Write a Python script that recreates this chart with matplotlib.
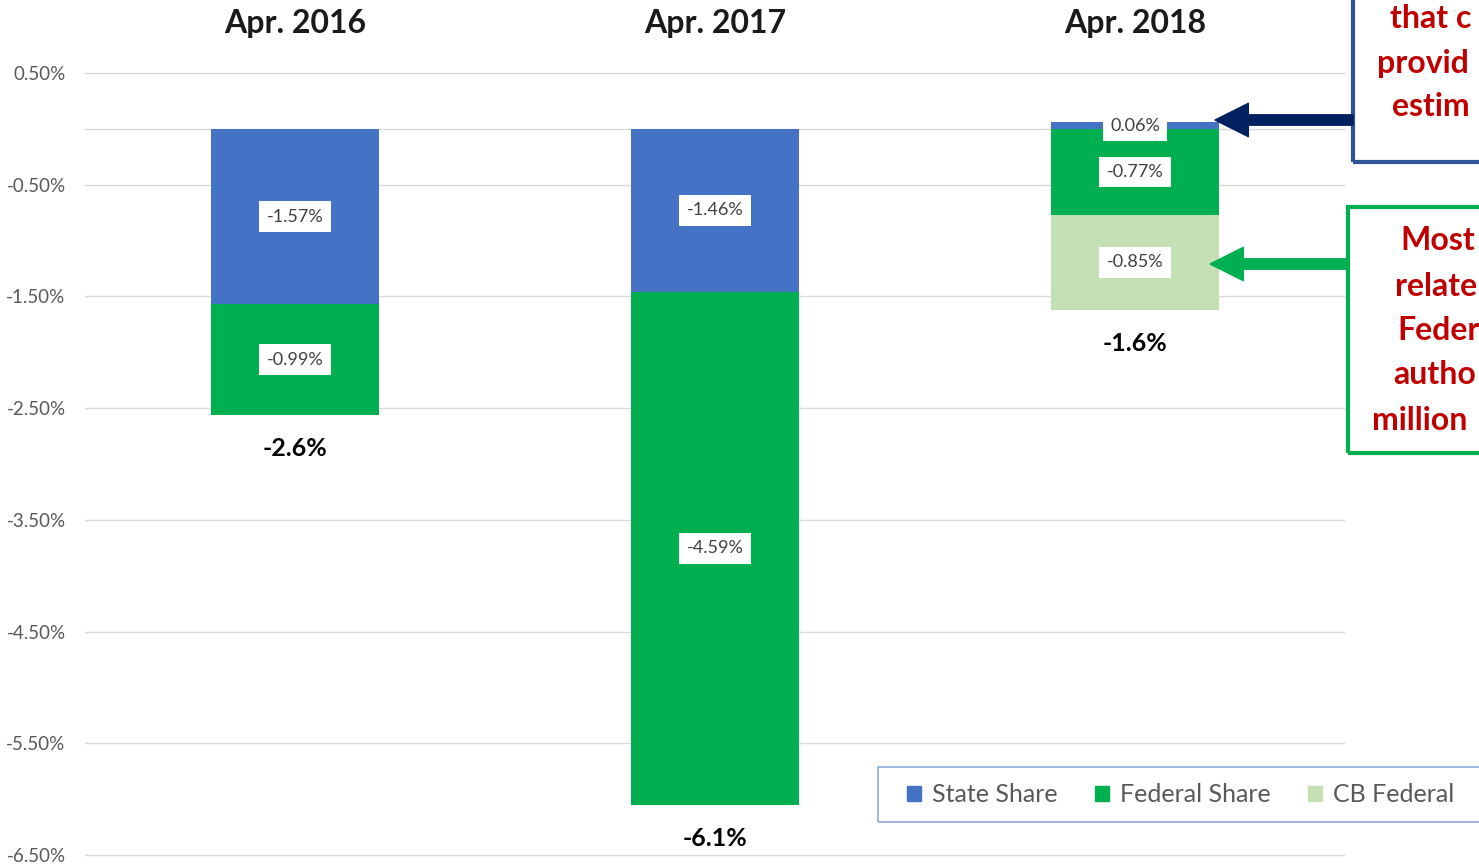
import matplotlib.pyplot as plt
from matplotlib.patches import Rectangle, FancyArrowPatch, Patch

plt.rcParams['font.family'] = ['Lato', 'DejaVu Sans']

# data
years = ['Apr. 2016', 'Apr. 2017', 'Apr. 2018']
state_share = [-1.57, -1.46, 0.06]
federal_share = [-0.99, -4.59, -0.77]
cb_federal = [0.0, 0.0, -0.85]
totals = [-2.6, -6.1, -1.6]
yticks = [0.5, -0.5, -1.5, -2.5, -3.5, -4.5, -5.5, -6.5]

series = [('State Share', state_share, '#4472C4'),
          ('Federal Share', federal_share, '#00B050'),
          ('CB Federal', cb_federal, '#C5E0B4')]

W, H = 1479, 866
fig = plt.figure(figsize=(W / 100, H / 100), dpi=100)


def fpx(x, y):
    return (x / W, 1 - y / H)


ax = fig.add_axes([85 / W, 0, (1345 - 85) / W, 1])
ppu = (855 - 73) / 7.0
ax.set_ylim(-6.5 - (H - 855) / ppu, 0.5 + 73 / ppu)
ax.set_xlim(-0.5, 2.5)

x = list(range(len(years)))
pos_bottom = [0.0] * len(x)
neg_bottom = [0.0] * len(x)
for name, vals, col in series:
    bottoms = []
    for i, v in enumerate(vals):
        if v >= 0:
            bottoms.append(pos_bottom[i])
            pos_bottom[i] += v
        else:
            bottoms.append(neg_bottom[i])
            neg_bottom[i] += v
    ax.bar(x, vals, bottom=bottoms, width=0.4, color=col, zorder=2)
    for i, v in enumerate(vals):
        if v == 0:
            continue
        ax.text(i, bottoms[i] + v / 2, f'{v:.2f}%', ha='center', va='center',
                fontsize=13, color='#404040', zorder=4,
                bbox=dict(boxstyle='square,pad=0.4', fc='white', ec='none'))

for i, t in enumerate(totals):
    ax.text(i, neg_bottom[i] - 0.3, f'{t:.1f}%', ha='center', va='center',
            fontsize=18, fontweight='bold', color='black')

for i, name in enumerate(years):
    ax.text(i, 0.5 + 49 / ppu, name, ha='center', va='center',
            fontsize=23, fontweight='bold', color='#1a1a1a')

ax.set_yticks(yticks)
ax.set_yticklabels([f'{t:.2f}%' for t in yticks], color='#595959', fontsize=13.5)
ax.tick_params(axis='y', length=0, pad=14)
ax.set_xticks([])
ax.grid(axis='y', color='#D9D9D9', lw=1, zorder=0)
ax.axhline(0, color='#D9D9D9', lw=1, zorder=0)
for s in ax.spines.values():
    s.set_visible(False)

# legend (frame drawn separately, it runs off the right edge)
fig.patches.append(Rectangle(fpx(878, 822), 0.5, 55 / H, transform=fig.transFigure,
                             fill=False, ec='#8FAADC', lw=1.2, clip_on=False))
handles = [Patch(color=c, label=n) for n, v, c in series]
leg = fig.legend(handles=handles, loc='center left', bbox_to_anchor=fpx(907, 795),
                 ncol=3, frameon=False, fontsize=18,
                 handlelength=0.55, handleheight=0.55, handletextpad=0.45,
                 columnspacing=1.5, borderaxespad=0, borderpad=0)
for t in leg.get_texts():
    t.set_color('#595959')

# annotation boxes on the right
blue_box = Rectangle(fpx(1353, 162), 0.2, 0.3, transform=fig.transFigure,
                     fill=False, ec='#2F5597', lw=3, clip_on=False)
green_box = Rectangle(fpx(1348, 453), 0.2, (453 - 207) / H, transform=fig.transFigure,
                      fill=False, ec='#00B050', lw=3, clip_on=False)
fig.patches.extend([blue_box, green_box])

red = '#C00000'
for txt, xx, yy in [('that c', 1390, 18), ('provid', 1377, 63), ('estim', 1392, 107),
                    ('Most', 1400, 241), ('relate', 1395, 286), ('Feder', 1397, 331),
                    ('autho', 1393, 375), ('million', 1372, 420)]:
    fig.text(*fpx(xx, yy), txt, ha='left', va='center', fontsize=23,
             fontweight='bold', color=red)

arrow_style = 'simple,head_length=2.4,head_width=2.4,tail_width=0.75'
a1 = FancyArrowPatch(fpx(1353, 120), fpx(1215, 120), transform=fig.transFigure,
                     arrowstyle=arrow_style, mutation_scale=10, color='#002060',
                     shrinkA=0, shrinkB=0)
a2 = FancyArrowPatch(fpx(1348, 264), fpx(1210, 264), transform=fig.transFigure,
                     arrowstyle=arrow_style, mutation_scale=10, color='#00B050',
                     shrinkA=0, shrinkB=0)
fig.patches.extend([a1, a2])

fig.savefig('out.png', dpi=100)
